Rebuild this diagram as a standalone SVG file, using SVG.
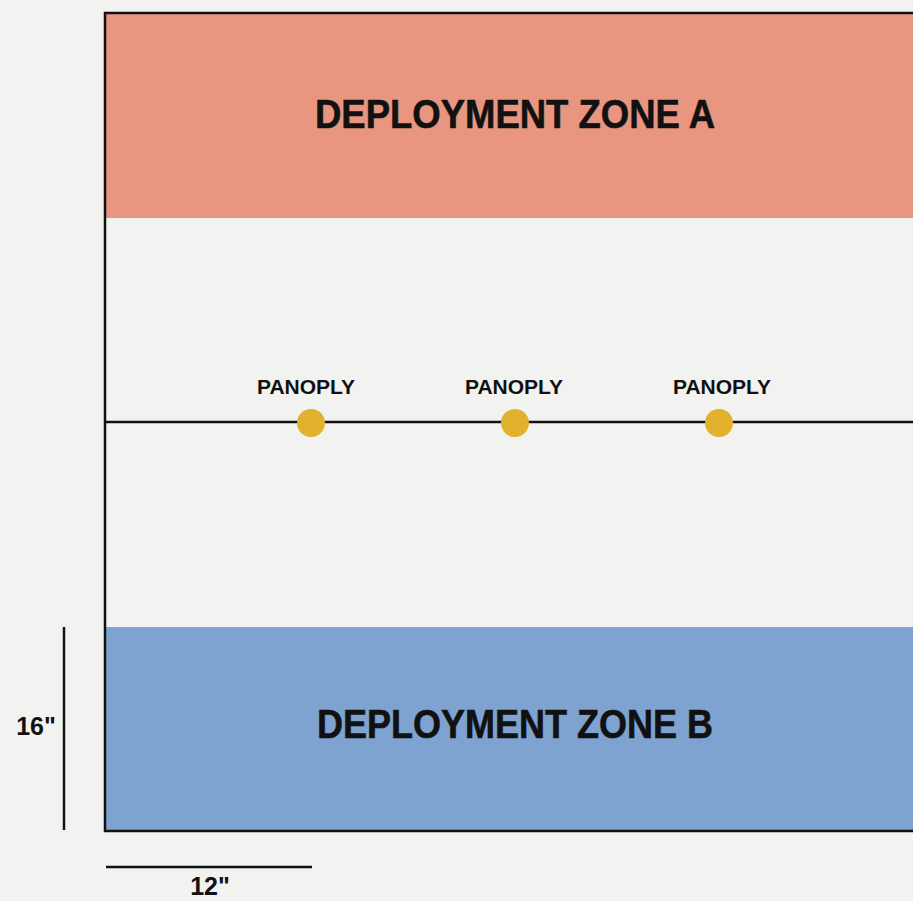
<svg xmlns="http://www.w3.org/2000/svg" width="913" height="901" viewBox="0 0 913 901">
<style>
.lbl{font-family:"Liberation Sans",Arial,sans-serif;font-weight:bold;fill:#111;}
.zone{font-size:41px;stroke:#111;stroke-width:0.6;}
.pan{font-size:21px;}
.dim{font-size:25px;}
.ln{stroke:#111;stroke-width:2.5;fill:none;}
.dot{fill:#E3B22C;}
</style>
<rect x="0" y="0" width="913" height="901" fill="#F2F2F0"/>
<g id="zone-a">
<rect x="105" y="13" width="812" height="205" fill="#E8967F"/>
<text class="lbl zone" x="315" y="128" textLength="400" lengthAdjust="spacingAndGlyphs">DEPLOYMENT ZONE A</text>
</g>
<g id="zone-b">
<rect x="105" y="627" width="812" height="204" fill="#7FA3D1"/>
<text class="lbl zone" x="317" y="738" textLength="396" lengthAdjust="spacingAndGlyphs">DEPLOYMENT ZONE B</text>
</g>
<g id="board">
<rect x="105" y="13" width="812" height="818" class="ln"/>
</g>
<g id="connectors">
<line x1="105" y1="422" x2="913" y2="422" class="ln"/>
<line x1="64" y1="627" x2="64" y2="830" class="ln"/>
<line x1="106" y1="867" x2="312" y2="867" class="ln"/>
</g>
<g id="panoply-1">
<text class="lbl pan" x="257" y="394" textLength="98" lengthAdjust="spacingAndGlyphs">PANOPLY</text>
<circle class="dot" cx="311" cy="423" r="14"/>
</g>
<g id="panoply-2">
<text class="lbl pan" x="465" y="394" textLength="98" lengthAdjust="spacingAndGlyphs">PANOPLY</text>
<circle class="dot" cx="515" cy="423" r="14"/>
</g>
<g id="panoply-3">
<text class="lbl pan" x="673" y="394" textLength="98" lengthAdjust="spacingAndGlyphs">PANOPLY</text>
<circle class="dot" cx="719" cy="423" r="14"/>
</g>
<g id="dim-16">
<text class="lbl dim" x="36" y="735" text-anchor="middle">16"</text>
</g>
<g id="dim-12">
<text class="lbl dim" x="210" y="895" text-anchor="middle">12"</text>
</g>
</svg>
